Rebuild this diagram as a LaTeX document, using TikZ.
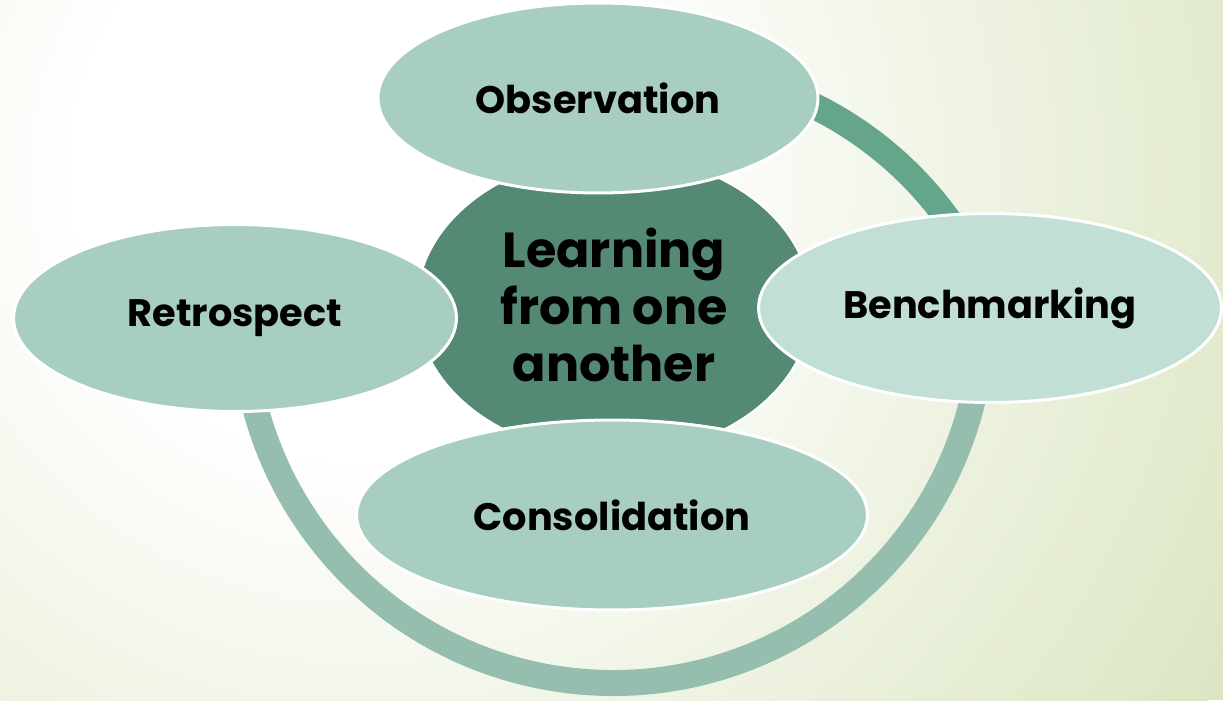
\documentclass[tikz,border=0pt]{standalone}
\usepackage{fontspec}
\setmainfont{Poppins}
\usetikzlibrary{shapes.geometric}
\definecolor{ringdark}{HTML}{64A58C}
\definecolor{ringlight}{HTML}{96BEAE}
\definecolor{bubblefill}{HTML}{A7CEC0}
\definecolor{bubblelight}{HTML}{C2DFD5}
\definecolor{hubfill}{HTML}{548A74}
\definecolor{bgfar}{HTML}{DCE6C3}
\pgfdeclareradialshading{bgglow}{\pgfpoint{0bp}{0bp}}{color(0bp)=(white); color(7bp)=(white); color(25bp)=(bgfar); color(50bp)=(bgfar)}
\tikzset{
	bubble/.style={ellipse, draw=white, line width=1.7pt, fill=bubblefill, inner sep=0pt, text=black, font=\bfseries\fontsize{21.8}{26}\selectfont},
	hub/.style={ellipse, draw=white, line width=1.2pt, fill=hubfill, inner sep=0pt, minimum width=7.9cm, minimum height=6cm, align=center, text=black, font=\bfseries\fontsize{28}{32.5}\selectfont},
	ringarc/.style={line width=0.52cm}
}

\begin{document}
\begin{tikzpicture}[x=0.02cm, y=-0.02cm]
			%%%%% START %%%%%
			
			\useasboundingbox (0, 0) rectangle (1223, 700);
			\fill[bgfar] (0, 0) rectangle (1223, 700);
			\begin{scope}
				\clip (0, 0) rectangle (1223, 700);
				\shade[shading=bgglow] (360, 170) circle (1000);
			\end{scope}
			
			% ring
			\draw[ringarc, color=ringdark] (652, 433) ++(-70:365) arc (-70:-28:365);
			\draw[ringarc, color=ringlight] (613, 313) ++(5:370) arc (5:175:370);
			
			% centre
			\node[hub] (hub) at (614, 305) {Learning\\from one\\another};
			
			% stages
			\node[bubble, minimum width=8.8cm, minimum height=3.8cm] (obs) at (598, 98) {Observation};
			\node[bubble, fill=bubblelight, minimum width=9.26cm, minimum height=3.78cm] (bench) at (990, 308) {Benchmarking};
			\node[bubble, minimum width=10.22cm, minimum height=3.8cm] (cons) at (612, 515) {Consolidation};
			\node[bubble, minimum width=8.86cm, minimum height=3.74cm] (retro) at (235, 318) {Retrospect};
			
			%%%%% END %%%%%
\end{tikzpicture}
\end{document}
